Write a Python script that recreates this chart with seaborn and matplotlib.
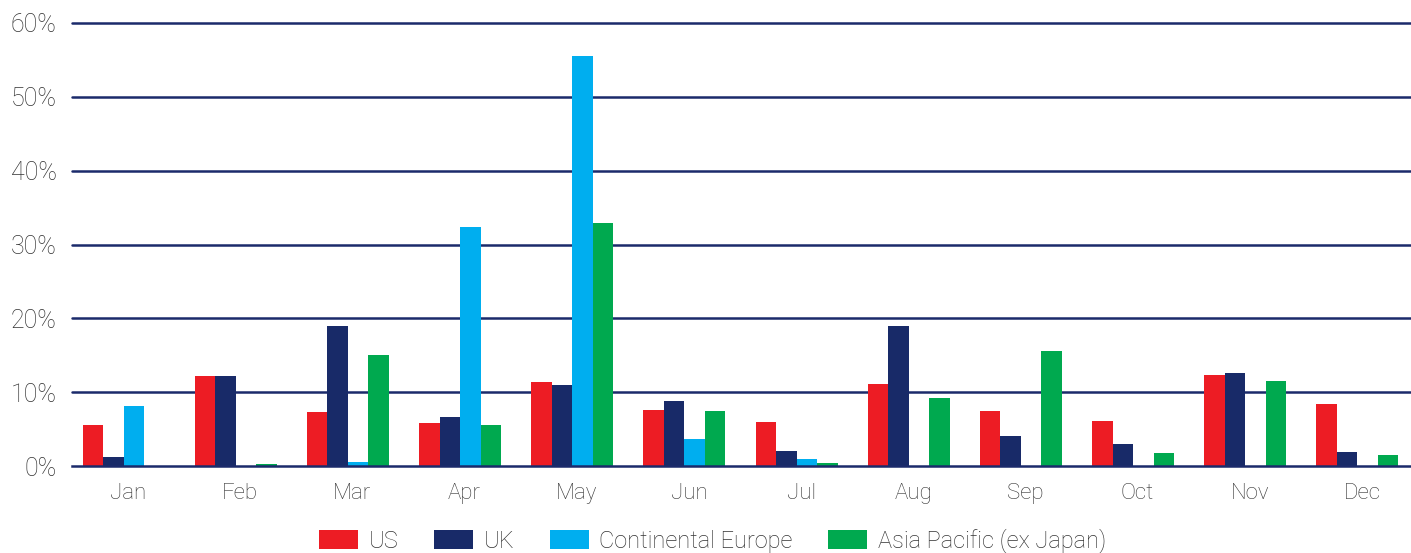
import numpy as np
import pandas as pd
import matplotlib
matplotlib.use("Agg")
import matplotlib.pyplot as plt
import seaborn as sns
from matplotlib.ticker import FuncFormatter, FixedLocator

months = ["Jan", "Feb", "Mar", "Apr", "May", "Jun", "Jul", "Aug", "Sep", "Oct", "Nov", "Dec"]
regions = ["US", "UK", "Continental Europe", "Asia Pacific (ex Japan)"]
us = [5.6, 12.2, 7.3, 5.8, 11.4, 7.6, 6.0, 11.1, 7.4, 6.05, 12.3, 8.4]
uk = [1.2, 12.2, 19.0, 6.6, 10.95, 8.8, 2.0, 18.9, 4.1, 2.95, 12.55, 1.9]
ce = [8.1, 0.0, 0.5, 32.4, 55.5, 3.7, 0.95, 0.0, 0.0, 0.0, 0.0, 0.0]
ap = [0.0, 0.3, 15.1, 5.5, 32.9, 7.5, 0.35, 9.2, 15.6, 1.7, 11.5, 1.55]
colors = ["#ED1C24", "#182A68", "#00AEEF", "#00A94F"]

df = pd.DataFrame({
    "Month": months * 4,
    "Region": sum([[r] * 12 for r in regions], []),
    "Value": us + uk + ce + ap,
})

sns.set_theme(style="white")
plt.rcParams["font.family"] = ["Roboto", "DejaVu Sans"]
plt.rcParams["font.weight"] = "light"
navy = "#1B2A6B"
txt = "#333333"

fig = plt.figure(figsize=(14.11, 5.53), dpi=100)
left = 72 / 1411
right = 1418 / 1411
bottom = 1 - 466 / 553
top = 1 - 23 / 553
ax = fig.add_axes([left, bottom, right - left, top - bottom])

sns.barplot(data=df, x="Month", y="Value", hue="Region", palette=colors,
            order=months, hue_order=regions, width=0.73, saturation=1,
            dodge=True, ax=ax, legend=True, linewidth=0)

shift = 0.04
ax.set_xlim(-0.5 + shift, 11.5 + shift)
ax.set_ylim(0, 60)
ax.set_xlabel("")
ax.set_ylabel("")

ax.set_yticks([0, 10, 20, 30, 40, 50, 60])
ax.yaxis.set_major_formatter(FuncFormatter(lambda v, p: f"{int(v)}%"))
ax.tick_params(axis="y", length=0, pad=11, labelsize=18, labelcolor=txt)

ax.set_xticks(np.arange(12) + shift)
ax.set_xticklabels(months)
ax.tick_params(axis="x", which="major", length=0, pad=12, labelsize=16, labelcolor=txt)
ax.xaxis.set_minor_locator(FixedLocator(np.arange(12) - 0.5 + shift))
ax.tick_params(axis="x", which="minor", length=6, width=1.8, color=navy, direction="out")

for y in [10, 20, 30, 40, 50, 60]:
    ax.axhline(y, color=navy, lw=1.8, zorder=0, clip_on=False)
for s in ["top", "right", "left"]:
    ax.spines[s].set_visible(False)
ax.spines["bottom"].set_color(navy)
ax.spines["bottom"].set_linewidth(1.8)
ax.set_axisbelow(True)

handles, labels = ax.get_legend_handles_labels()
ax.get_legend().remove()
fig.legend(handles, labels, loc="center", bbox_to_anchor=(0.505, 1 - 541 / 553),
           ncol=4, frameon=False, fontsize=17, handlelength=1.65, handleheight=0.85,
           handletextpad=0.45, columnspacing=1.5, labelcolor=txt)

fig.savefig("out.png", dpi=100)
